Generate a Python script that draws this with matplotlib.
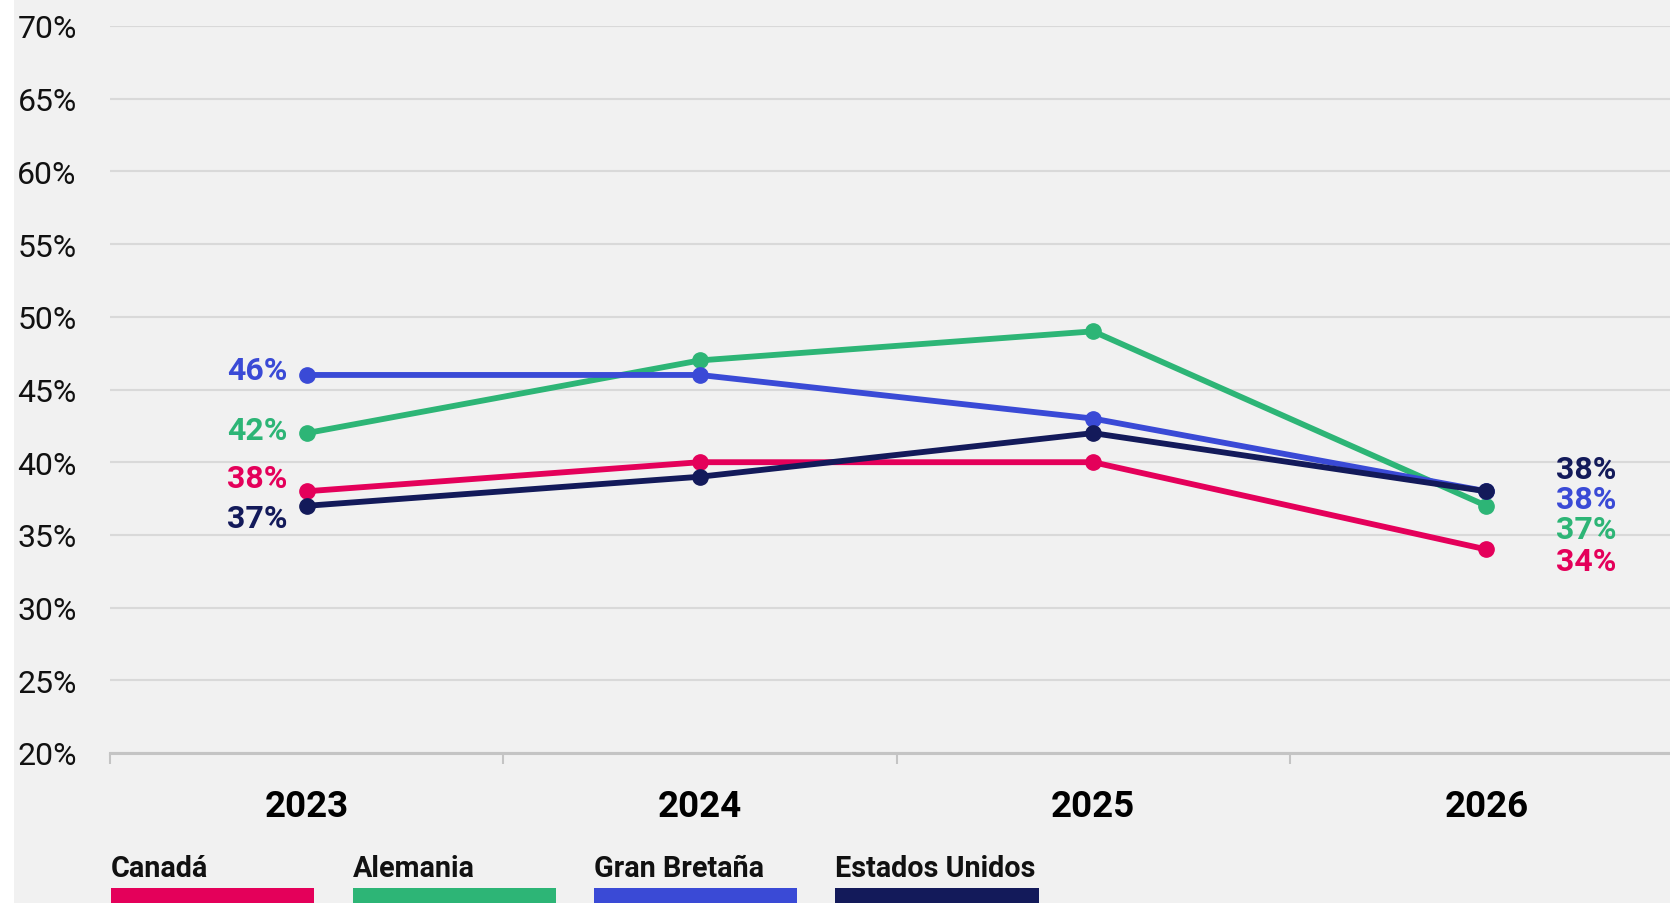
import matplotlib.pyplot as plt
from matplotlib.patches import Rectangle

# data
years = ['2023', '2024', '2025', '2026']
countries = ['Canadá', 'Alemania', 'Gran Bretaña', 'Estados Unidos']
canada = [38, 40, 40, 34]
alemania = [42, 47, 49, 37]
gran_bretana = [46, 46, 43, 38]
estados_unidos = [37, 39, 42, 38]
y_ticks = [20, 25, 30, 35, 40, 45, 50, 55, 60, 65, 70]

series = [canada, alemania, gran_bretana, estados_unidos]
colors = ['#E4005A', '#2DB576', '#3A4AD6', '#131A5A']
# vertical nudges (pixels, + is up) for the end labels so they don't collide
first_dy = [13, 3, 5, -12]
last_dy = [-12, -23, -8, 22]

plt.rcParams['font.family'] = ['Roboto', 'DejaVu Sans']

W, H = 1670, 904
fig = plt.figure(figsize=(W / 100, H / 100), dpi=100, facecolor='white')
fig.patches.append(Rectangle((14 / W, 0), 1, 1, transform=fig.transFigure,
                             facecolor='#f1f1f1', edgecolor='none', zorder=-10))

ax = fig.add_axes([110 / W, (H - 754) / H, (1683 - 110) / W, (754 - 27) / H])
ax.set_facecolor('none')

x = list(range(len(years)))
for i, vals in enumerate(series):
    ax.plot(x, vals, color=colors[i], lw=4.2, marker='o', markersize=11,
            zorder=3 + i, solid_capstyle='round')
    ax.annotate(f'{vals[0]}%', (x[0], vals[0]), xytext=(-19 * 0.72, first_dy[i] * 0.72),
                textcoords='offset points', ha='right', va='center',
                fontsize=23, fontweight='bold', color=colors[i])
    ax.annotate(f'{vals[-1]}%', (x[-1], vals[-1]), xytext=(70 * 0.72, last_dy[i] * 0.72),
                textcoords='offset points', ha='left', va='center',
                fontsize=23, fontweight='bold', color=colors[i])

ax.set_xlim(-0.5, len(years) - 0.5)
ax.set_ylim(20, 70)
ax.set_yticks(y_ticks)
ax.set_yticklabels([f'{t}%' for t in y_ticks])
ax.grid(axis='y', color='#d9d9d9', lw=1.5)
ax.set_axisbelow(True)

ax.set_xticks(x)
ax.set_xticklabels(years)
ax.set_xticks([i - 0.5 for i in range(len(years) + 1)], minor=True)
ax.tick_params(axis='x', which='major', length=0, pad=25, labelsize=26.5)
ax.tick_params(axis='x', which='minor', length=8, width=1.5, color='#c4c4c4')
ax.tick_params(axis='y', length=0, pad=24, labelsize=23, labelcolor='#111111')
for lbl in ax.get_xticklabels():
    lbl.set_fontweight('bold')
for lbl in ax.get_yticklabels():
    lbl.set_fontweight('normal')

for side in ['top', 'right', 'left']:
    ax.spines[side].set_visible(False)
ax.spines['bottom'].set_color('#c4c4c4')
ax.spines['bottom'].set_linewidth(2.2)

# legend: label above a colored bar
for i, name in enumerate(countries):
    lx = (111 + i * 241.5) / W
    fig.text(lx, (H - 877) / H, name, fontsize=20.7, fontweight='bold',
             color='#111111', ha='left', va='baseline')
    fig.patches.append(Rectangle((lx, 0), 203 / W, (H - 889) / H,
                                 transform=fig.transFigure,
                                 facecolor=colors[i], edgecolor='none'))

fig.savefig('out.png', dpi=100, facecolor=fig.get_facecolor())
